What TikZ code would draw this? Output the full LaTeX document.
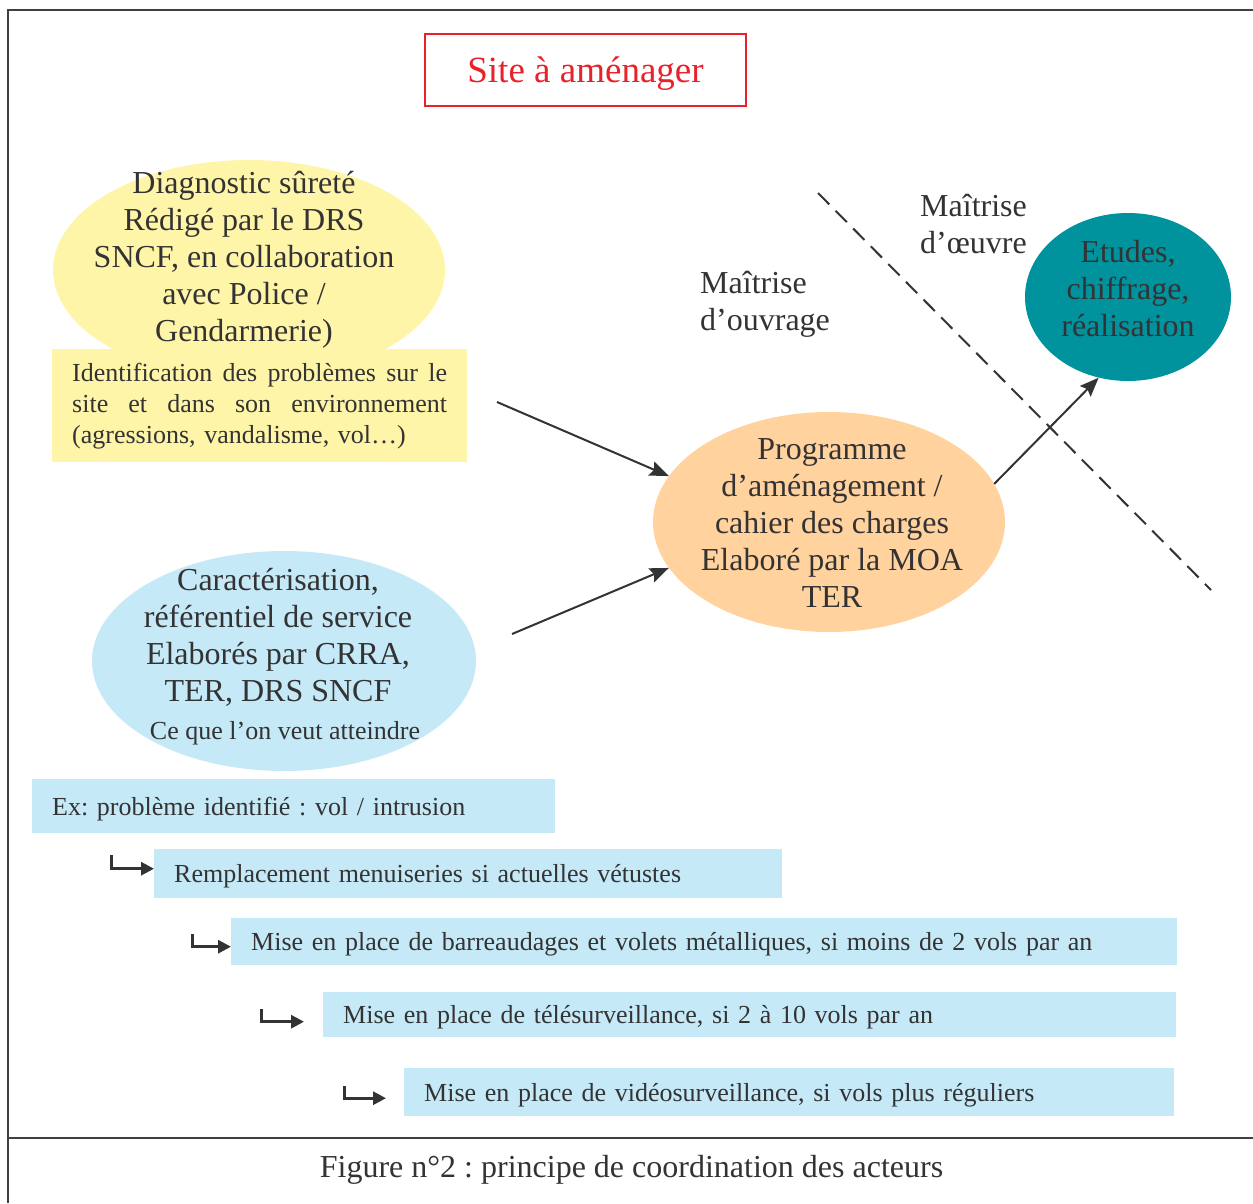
\documentclass[tikz,border=0pt]{standalone}
\usepackage{fontspec}
\setmainfont{Liberation Serif}
\usetikzlibrary{shapes.geometric,arrows.meta,calc}
\definecolor{txt}{HTML}{333333}
\definecolor{redc}{HTML}{E8212B}
\definecolor{yel}{HTML}{FFF5A8}
\definecolor{blu}{HTML}{C6E9F8}
\definecolor{ora}{HTML}{FFD29E}
\definecolor{tea}{HTML}{00929D}
\definecolor{framec}{HTML}{404040}
\frenchspacing
\begin{document}
\begin{tikzpicture}[x=1pt,y=-1pt,
  big/.style={font=\fontsize{32}{37}\selectfont, text=txt, align=center, inner sep=0pt},
  blob/.style={ellipse, draw=none, inner sep=0pt},
  listbox/.style={fill=blu, anchor=north west, inner xsep=20pt, inner ysep=0pt, text depth=0pt, align=left, font=\fontsize{26}{31}\selectfont, text=txt},
  arr/.style={draw=txt, line width=2pt, -{Stealth[length=19pt,width=15pt,inset=3pt]}},
  hookarr/.style={draw=txt, line width=3pt, -{Triangle[length=13pt,width=13pt]}}]
\useasboundingbox (0,0) rectangle (1253,1203);
% frame
\draw[framec, line width=2pt] (1253,10) -- (8,10) -- (8,1203);
\draw[framec, line width=2pt] (8,1138) -- (1253,1138);

% title
\node[draw=redc, line width=2.5pt, minimum width=321pt, minimum height=72pt, text=redc, font=\fontsize{37}{42}\selectfont, text depth=0pt] (site) at (585.5,70) {Site à aménager};

% yellow
\node[blob, fill=yel, minimum width=392pt, minimum height=220pt] (ye) at (249,270) {};
\node[big] (yet) at (244,260) {Diagnostic sûreté\\Rédigé par le DRS\\SNCF, en collaboration\\avec Police /\\Gendarmerie)};
\node[fill=yel, anchor=north west, minimum height=113pt, inner xsep=20pt, inner ysep=0pt, text width=375pt, align=left, font=\fontsize{26}{31}\selectfont, text=txt] (yb) at (52,349)
 {\makebox[375pt][l]{Identification\hfill des\hfill problèmes\hfill sur\hfill le}\\\makebox[375pt][l]{site\hfill et\hfill dans\hfill son\hfill environnement}\\(agressions, vandalisme, vol…)};

% blue
\node[blob, fill=blu, minimum width=384pt, minimum height=220pt] (bl) at (284,661) {};
\node[big] (blt) at (278,637) {Caractérisation,\\référentiel de service\\Elaborés par CRRA,\\TER, DRS SNCF};
\node[font=\fontsize{26}{31}\selectfont, text=txt, inner sep=0pt] (blt2) at (285,733) {Ce que l’on veut atteindre};

% orange
\node[blob, fill=ora, minimum width=352pt, minimum height=220pt] (or) at (829,522) {};
\node[big] (ort) at (832,523) {Programme\\d’aménagement /\\cahier des charges\\Elaboré par la MOA\\TER};

% teal
\node[blob, fill=tea, minimum width=206pt, minimum height=168pt] (te) at (1128,297) {};
\node[big] (tet) at (1128,289) {Etudes,\\chiffrage,\\réalisation};

% labels
\node[big, align=left, anchor=west] (moa) at (700,304) {Maîtrise\\d’ouvrage};
\node[big, align=left, anchor=west] (moe) at (920,224) {Maîtrise\\d’œuvre};

% dashed separator
\coordinate (d1) at (818,193);
\coordinate (d2) at (1211,590);
\draw[txt, line width=2pt, dash pattern=on 16pt off 9pt] (d1) -- (d2);

% arrows
\coordinate (a1) at (497,402);
\coordinate (a2) at (512,634);
\draw[arr] (a1) -- (or.164);
\draw[arr] (a2) -- (or.196);
\draw[arr] (or.13) -- (te.250);

% list boxes
\node[listbox, minimum height=54pt, text width=483pt] (b1) at (32,779) {Ex: problème identifié : vol / intrusion};
\node[listbox, minimum height=49pt, text width=588pt] (b2) at (154,849) {Remplacement menuiseries si actuelles vétustes};
\node[listbox, minimum height=47pt, text width=906pt] (b3) at (231,918) {Mise en place de barreaudages et volets métalliques, si moins de 2 vols par an};
\node[listbox, minimum height=45pt, text width=813pt] (b4) at (323,992) {Mise en place de télésurveillance, si 2 à 10 vols par an};
\node[listbox, minimum height=48pt, text width=730pt] (b5) at (404,1068) {Mise en place de vidéosurveillance, si vols plus réguliers};

% hooks
\coordinate (h2) at (111,855);
\coordinate (h3) at (192,934);
\coordinate (h4) at (261,1009);
\coordinate (h5) at (344,1086);
\draw[hookarr] (h2) |- ($(b2.west)+(0,-5)$);
\draw[hookarr] (h3) |- ($(b3.west)+(0,5)$);
\draw[hookarr] (h4) |- ($(b4.west)+(-19,7)$);
\draw[hookarr] (h5) |- ($(b5.west)+(-18,6)$);

% caption
\node[font=\fontsize{32}{37}\selectfont, text=txt] (cap) at (631.5,1170) {Figure n°2 : principe de coordination des acteurs};
\end{tikzpicture}
\end{document}
